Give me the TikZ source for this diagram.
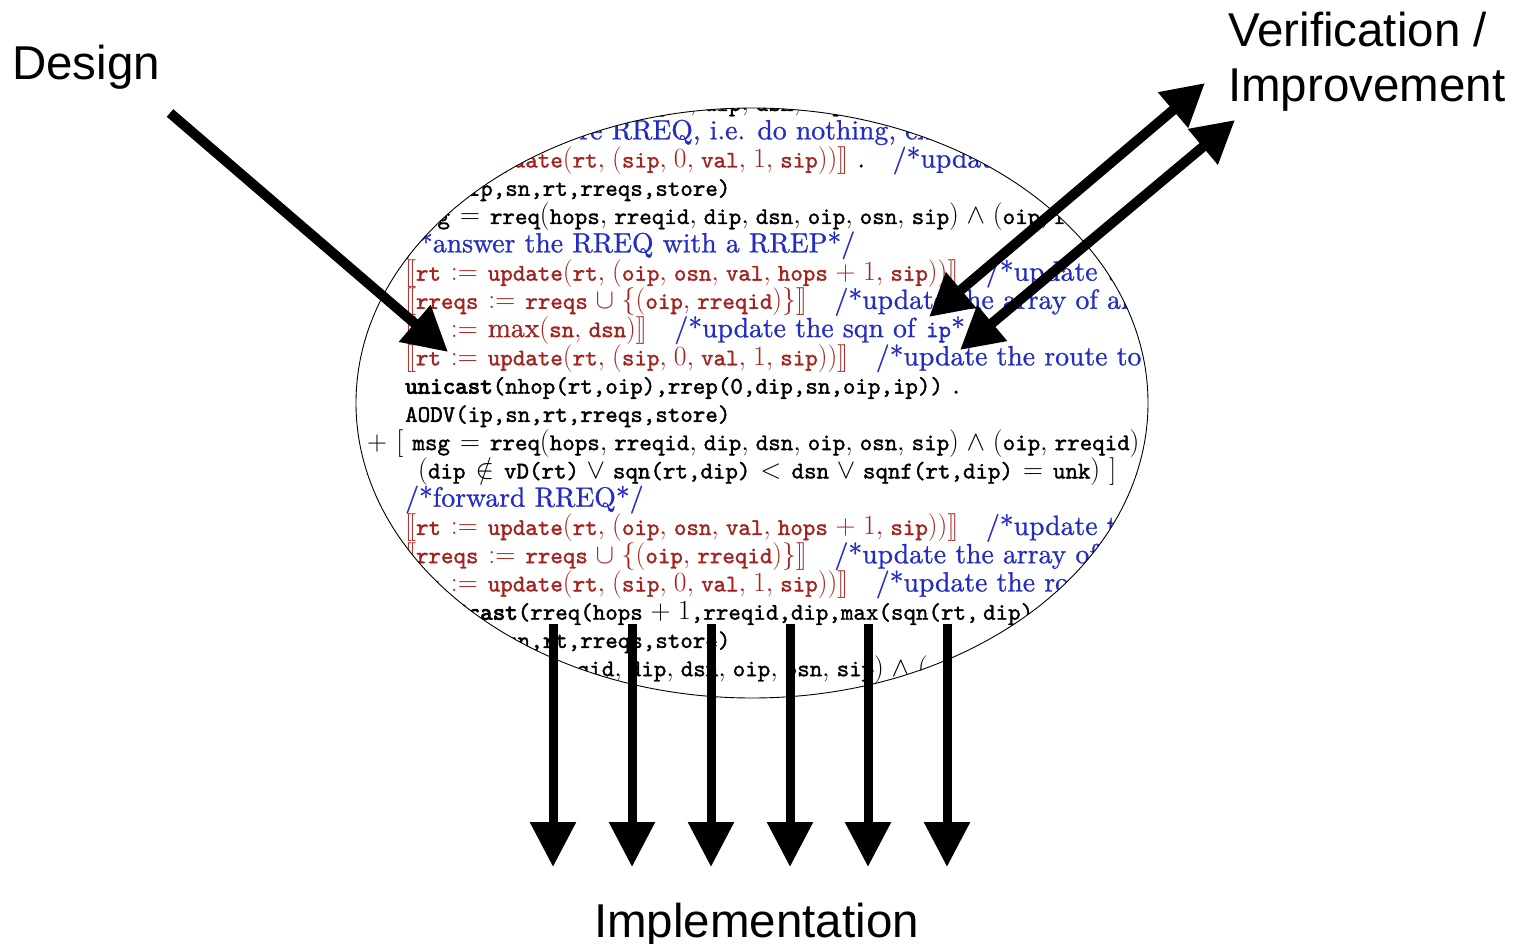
\RequirePackage{fix-cm}
\documentclass[tikz,border=0pt]{standalone}
\usepackage{fontspec}
\setmainfont[Extension=.otf,FakeBold=0.9]{lmroman10-regular}
\setmonofont[Extension=.otf,Scale=0.86,FakeBold=1.5]{lmmono10-regular}
\newfontfamily\kwfont[Extension=.otf,Scale=0.86,FakeBold=3.5]{lmmono10-regular}
\newfontfamily\sansfont{Liberation Sans}
\usetikzlibrary{arrows.meta,shapes.geometric}
\definecolor{codered}{RGB}{165,35,30}
\definecolor{codeblue}{RGB}{35,45,195}
\newcommand\tcode[1]{\texttt{#1}}
\newcommand\lsb{\mathopen{[\mkern-2mu[}}
\newcommand\rsb{\mathclose{]\mkern-2mu]}}
\newcommand\kwd[1]{{\kwfont #1}}
\newcommand\cmt[1]{\textcolor{codeblue}{#1}}
\newcommand\red[1]{\textcolor{codered}{#1}}
\thinmuskip=4.5mu
\medmuskip=5mu plus 2mu minus 4mu
\thickmuskip=6.5mu plus 5mu
\begin{document}
\begin{tikzpicture}[x=1pt,y=-1pt,
  code/.style={anchor=base west, inner sep=0pt, font=\fontsize{27.7}{28.3}\selectfont},
  lbl/.style={anchor=base west, inner sep=0pt, font=\sansfont\fontsize{47.5}{56}\selectfont},
  bigarrow/.style={line width=10pt, -{Triangle[length=44pt,width=46pt]}},
  dblarrow/.style={line width=10pt, {Triangle[length=42pt,width=44pt]}-{Triangle[length=42pt,width=44pt]}},
  downarrow/.style={line width=9pt, -{Triangle[length=45pt,width=44pt]}},
  oval/.style={draw, ellipse, line width=0.9pt, inner sep=0pt, minimum width=792pt, minimum height=590pt}]
\useasboundingbox (0,0) rectangle (1516,944);
\fill[white] (0,0) rectangle (1516,944);
\begin{scope}
\clip (752,403) ellipse [x radius=396, y radius=295];
\node[code] (l1) at (367,111.0) {$+\ [\ \tcode{msg} = \tcode{rreq}(\tcode{hops}, \tcode{rreqid}, \tcode{dip}, \tcode{dsn}, \tcode{oip}, \tcode{osn}, \tcode{sip}) \wedge (\tcode{oip}, \tcode{rreqid}) \in \tcode{rreqs}\ ]$};
\node[code] (l2) at (405,139.3) {\cmt{/*silently ignore RREQ, i.e. do nothing, except updating the route to \tcode{sip}*/}};
\node[code] (l3) at (405,167.5) {\red{$\lsb \tcode{rt} := \tcode{update}(\tcode{rt}, (\tcode{sip}, 0, \tcode{val}, 1, \tcode{sip}))\rsb$} .\quad\cmt{/*update the route to \tcode{sip}*/}};
\node[code] (l4) at (405,195.8) {\tcode{AODV(ip,sn,rt,rreqs,store)}};
\node[code] (l5) at (367,224.0) {$+\ [\ \tcode{msg} = \tcode{rreq}(\tcode{hops}, \tcode{rreqid}, \tcode{dip}, \tcode{dsn}, \tcode{oip}, \tcode{osn}, \tcode{sip}) \wedge (\tcode{oip}, \tcode{rreqid}) \notin \tcode{rreqs} \wedge \tcode{dip} = \tcode{ip}\ ]$};
\node[code] (l6) at (405,252.3) {\cmt{/*answer the RREQ with a RREP*/}};
\node[code] (l7) at (405,280.6) {\red{$\lsb \tcode{rt} := \tcode{update}(\tcode{rt}, (\tcode{oip}, \tcode{osn}, \tcode{val}, \tcode{hops} + 1, \tcode{sip}))\rsb$}\quad\cmt{/*update the route to \tcode{oip}*/}};
\node[code] (l8) at (405,308.8) {\red{$\lsb \tcode{rreqs} := \tcode{rreqs} \cup \{(\tcode{oip}, \tcode{rreqid})\}\rsb$}\quad\cmt{/*update the array of already seen RREQ*/}};
\node[code] (l9) at (405,337.1) {\red{$\lsb \tcode{sn} := \max(\tcode{sn}, \tcode{dsn})\rsb$}\quad\cmt{/*update the sqn of \tcode{ip}*/}};
\node[code] (l10) at (405,365.3) {\red{$\lsb \tcode{rt} := \tcode{update}(\tcode{rt}, (\tcode{sip}, 0, \tcode{val}, 1, \tcode{sip}))\rsb$}\quad\cmt{/*update the route to \tcode{sip}*/}};
\node[code] (l11) at (405,393.6) {\kwd{unicast}\tcode{(nhop(rt,oip),rrep(0,dip,sn,oip,ip))} .};
\node[code] (l12) at (405,421.9) {\tcode{AODV(ip,sn,rt,rreqs,store)}};
\node[code] (l13) at (367,450.1) {$+\ [\ \tcode{msg} = \tcode{rreq}(\tcode{hops}, \tcode{rreqid}, \tcode{dip}, \tcode{dsn}, \tcode{oip}, \tcode{osn}, \tcode{sip}) \wedge(\tcode{oip}, \tcode{rreqid}) \notin \tcode{rreqs} \wedge$};
\node[code] (l14) at (418,478.4) {$(\tcode{dip} \notin \tcode{vD(rt)} \vee \tcode{sqn(rt,dip)} < \tcode{dsn} \vee \tcode{sqnf(rt,dip)} = \tcode{unk})\ ]$};
\node[code] (l15) at (405,506.6) {\cmt{/*forward RREQ*/}};
\node[code] (l16) at (405,534.9) {\red{$\lsb \tcode{rt} := \tcode{update}(\tcode{rt}, (\tcode{oip}, \tcode{osn}, \tcode{val}, \tcode{hops} + 1, \tcode{sip}))\rsb$}\quad\cmt{/*update the route to \tcode{oip}*/}};
\node[code] (l17) at (405,563.2) {\red{$\lsb \tcode{rreqs} := \tcode{rreqs} \cup \{(\tcode{oip}, \tcode{rreqid})\}\rsb$}\quad\cmt{/*update the array of already seen RREQ*/}};
\node[code] (l18) at (405,591.4) {\red{$\lsb \tcode{rt} := \tcode{update}(\tcode{rt}, (\tcode{sip}, 0, \tcode{val}, 1, \tcode{sip}))\rsb$}\quad\cmt{/*update the route to \tcode{sip}*/}};
\node[code] (l19) at (405,619.7) {\kwd{broadcast}\tcode{(rreq(}$\tcode{hops} + 1$\tcode{,rreqid,dip,max(sqn(rt,}\,\tcode{dip),dsn),oip,osn,ip))} .};
\node[code] (l20) at (405,647.9) {\tcode{AODV(ip,sn,rt,rreqs,store)}};
\node[code] (l21) at (292,676.2) {$+\ [\ \tcode{msg} = \tcode{rreq}(\tcode{hops}, \tcode{rreqid}, \tcode{dip}, \tcode{dsn}, \tcode{oip}, \tcode{osn}, \tcode{sip}) \wedge (\tcode{oip}, \tcode{rreqid}) \in \tcode{rreqs}\ ]$};
\end{scope}
\node[oval] (ell) at (752,403) {};
% labels
\node[lbl] (design) at (12,80) {Design};
\node[lbl] (verif) at (1228,47) {Verification /};
\node[lbl] (improve) at (1228,102) {Improvement};
\node[lbl] (impl) at (594,937) {Implementation};
% design arrow
\coordinate (d0) at (170,113);
\coordinate (d1) at (448,352);
\draw[bigarrow] (d0) -- (d1);
% verification arrows
\coordinate (va0) at (929,317);
\coordinate (va1) at (1205,83);
\coordinate (vb0) at (960,350);
\coordinate (vb1) at (1235,120);
\draw[dblarrow] (va0) -- (va1);
\draw[dblarrow] (vb0) -- (vb1);
% implementation arrows
\foreach \i/\x in {1/553,2/632,3/711,4/790,5/868,6/947}{
  \coordinate (i\i a) at (\x,624);
  \coordinate (i\i b) at (\x,867);
  \draw[downarrow] (i\i a) -- (i\i b);
}
\end{tikzpicture}
\end{document}
